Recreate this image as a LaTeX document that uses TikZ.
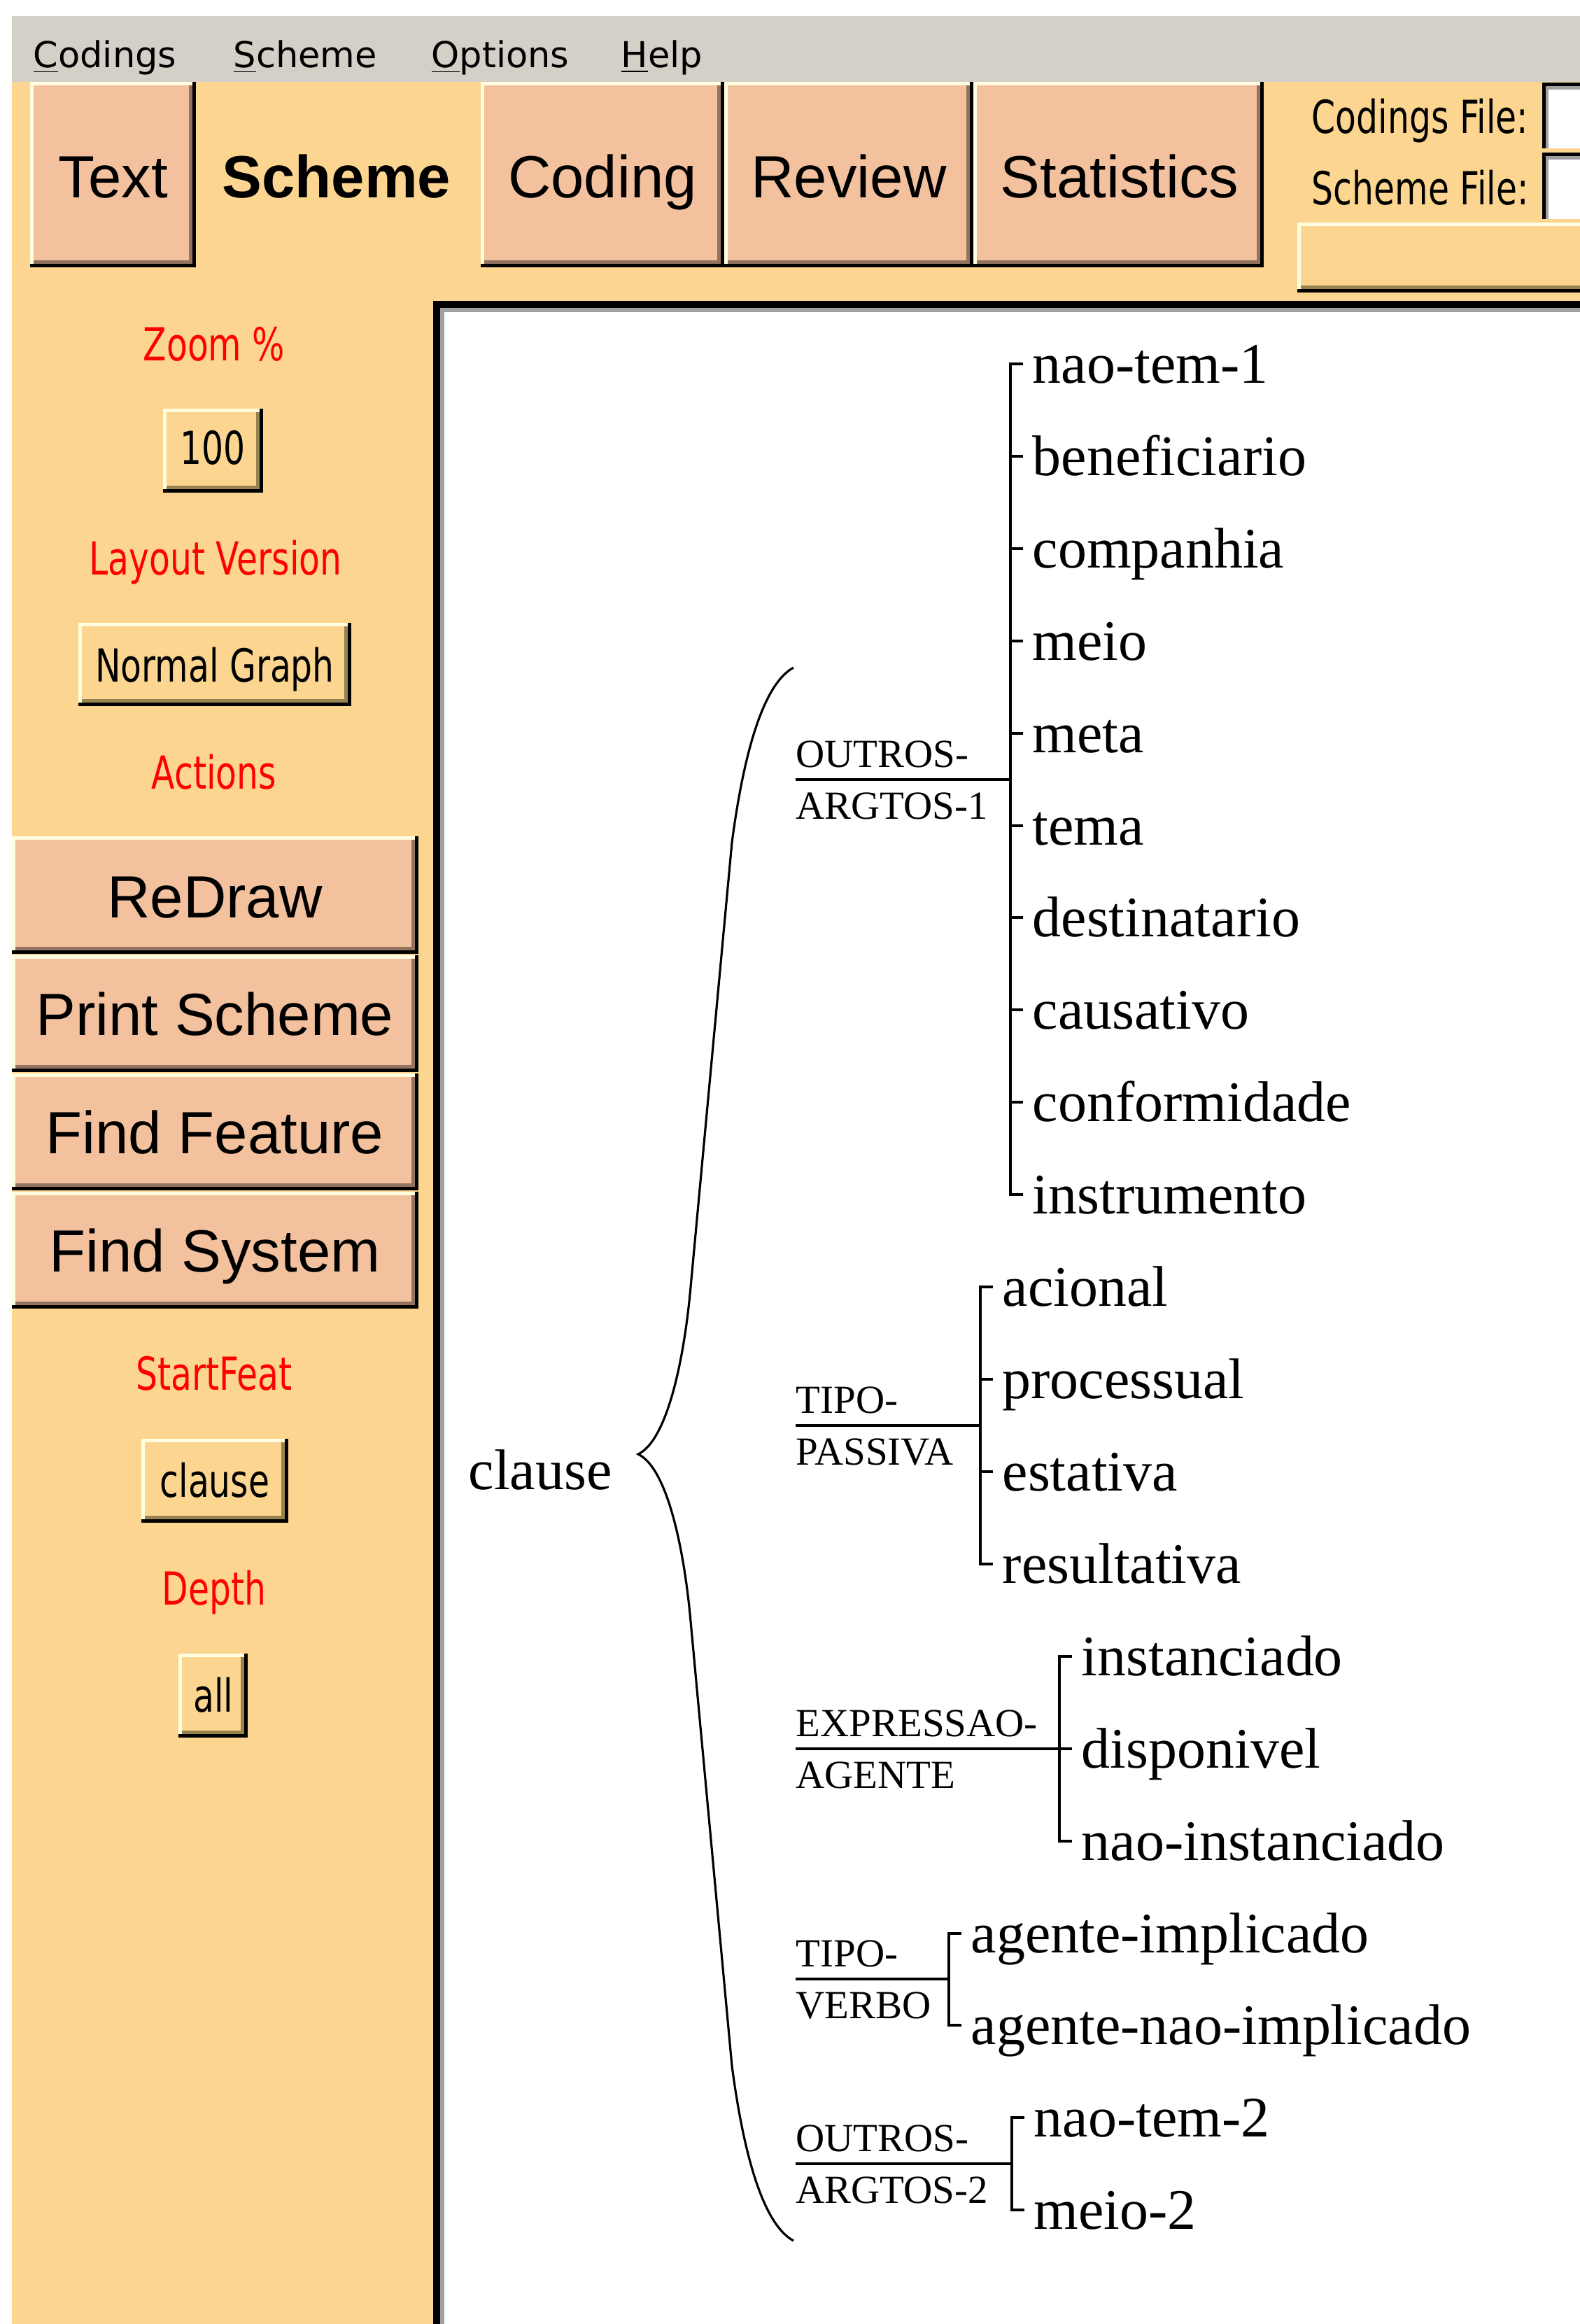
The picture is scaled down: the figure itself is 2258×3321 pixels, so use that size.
\documentclass[tikz,border=0pt]{standalone}
\usepackage{fontspec}
\setmainfont{Liberation Serif}
\newfontfamily\tabfont{Liberation Sans}
\newfontfamily\menufont{DejaVu Sans}
\newfontfamily\guifont[FakeStretch=0.75]{DejaVu Sans}

\definecolor{panelbg}{HTML}{FCD690}
\definecolor{peach}{HTML}{F3C19D}
\definecolor{menugray}{HTML}{D4D0C8}
\definecolor{cream}{HTML}{FFFDE0}
\definecolor{tabshadow}{HTML}{93735F}
\definecolor{boxshadow}{HTML}{98834F}
\definecolor{framegray}{HTML}{A0A0A0}

% raised windows box: x1 y1 x2 y2 fill shadow
\newcommand{\guibox}[6]{%
  \fill[#5] (#1,#2) rectangle (#3,#4);
  \fill[cream] (#1,#2) rectangle (#3,#2+5);
  \fill[cream] (#1,#2) rectangle (#1+5,#4);
  \fill[#6] (#1+5,#4-10) rectangle (#3-5,#4-5);
  \fill[#6] (#3-10,#2+5) rectangle (#3-5,#4-5);
  \fill[black] (#1,#4-5) rectangle (#3,#4);
  \fill[black] (#3-5,#2) rectangle (#3,#4);
}

\begin{document}
\begin{tikzpicture}[x=0.01cm, y=-0.01cm,
    tree/.style={line width=1.2pt},
    brace/.style={line width=0.9pt},
    item/.style={anchor=west, inner xsep=0.13cm, inner ysep=0pt,
      text height=0.78cm, text depth=0.24cm,
      font=\fontsize{23.3pt}{28pt}\selectfont},
    grp/.style={inner sep=0pt, text height=0.56cm, text depth=0.17cm,
      font=\fontsize{16.2pt}{19pt}\selectfont},
    menu/.style={anchor=base west, inner sep=0pt,
      font=\menufont\fontsize{14.5pt}{17pt}\selectfont},
    tablabel/.style={anchor=base, inner sep=0pt,
      font=\tabfont\fontsize{24.2pt}{29pt}\selectfont},
    boxlabel/.style={anchor=base, inner sep=0pt,
      font=\guifont\fontsize{18.5pt}{22pt}\selectfont},
    redlabel/.style={boxlabel, text=red}]
  \useasboundingbox (0,0) rectangle (2258,3321);

  % window background
  \fill[white] (0,0) rectangle (2258,3321);
  \fill[menugray] (17,23) rectangle (2258,117);
  \fill[panelbg] (17,117) rectangle (2258,3321);

  % menu bar
  \node[menu] (mCodings) at (47,97) {\underline{C}odings};
  \node[menu] (mScheme) at (333,97) {\underline{S}cheme};
  \node[menu] (mOptions) at (616,97) {\underline{O}ptions};
  \node[menu] (mHelp) at (887,97) {\underline{H}elp};

  % tabs
  \guibox{43}{117}{280}{382}{peach}{tabshadow}
  \guibox{687}{117}{1035}{382}{peach}{tabshadow}
  \guibox{1035}{117}{1391}{382}{peach}{tabshadow}
  \guibox{1391}{117}{1806}{382}{peach}{tabshadow}
  \node[tablabel] (tText) at (162,282) {Text};
  \node[tablabel, font=\tabfont\bfseries\fontsize{24.2pt}{29pt}\selectfont] (tScheme) at (481,282) {Scheme};
  \node[tablabel] (tCoding) at (861,282) {Coding};
  \node[tablabel] (tReview) at (1213,282) {Review};
  \node[tablabel] (tStats) at (1600,282) {Statistics};

  % file fields
  \node[boxlabel, anchor=base west] (lCodFile) at (1874,191) {Codings File:};
  \node[boxlabel, anchor=base west] (lSchFile) at (1874,292) {Scheme File:};
  \fill[white] (2204,118) rectangle (2258,212);
  \fill[black] (2204,118) rectangle (2258,123);
  \fill[black] (2204,118) rectangle (2209,212);
  \fill[framegray] (2209,123) rectangle (2258,128);
  \fill[framegray] (2209,123) rectangle (2213,212);
  \fill[white] (2204,218) rectangle (2258,313);
  \fill[black] (2204,218) rectangle (2258,223);
  \fill[black] (2204,218) rectangle (2209,313);
  \fill[framegray] (2209,223) rectangle (2258,228);
  \fill[framegray] (2209,223) rectangle (2213,313);
  \guibox{1854}{318}{2300}{418}{panelbg}{boxshadow}

  % left control panel
  \node[redlabel] (lZoom) at (306,515) {Zoom \%};
  \guibox{233}{584}{376}{704}{panelbg}{boxshadow}
  \node[boxlabel] (bZoom) at (304,663) {100};
  \node[redlabel] (lLayout) at (308,821) {Layout Version};
  \guibox{112}{890}{502}{1009}{panelbg}{boxshadow}
  \node[boxlabel] (bLayout) at (307,974) {Normal Graph};
  \node[redlabel] (lActions) at (306,1127) {Actions};

  % action buttons
  \guibox{17}{1195}{598}{1363}{peach}{tabshadow}
  \guibox{17}{1365}{598}{1532}{peach}{tabshadow}
  \guibox{17}{1534}{598}{1701}{peach}{tabshadow}
  \guibox{17}{1703}{598}{1870}{peach}{tabshadow}
  \node[tablabel] (bRedraw) at (307,1311) {ReDraw};
  \node[tablabel] (bPrint) at (307,1479) {Print Scheme};
  \node[tablabel] (bFeature) at (307,1648) {Find Feature};
  \node[tablabel] (bSystem) at (307,1817) {Find System};

  \node[redlabel] (lStart) at (306,1986) {StartFeat};
  \guibox{202}{2056}{412}{2176}{panelbg}{boxshadow}
  \node[boxlabel] (bStart) at (307,2139) {clause};
  \node[redlabel] (lDepth) at (306,2293) {Depth};
  \guibox{255}{2363}{354}{2483}{panelbg}{boxshadow}
  \node[boxlabel] (bDepth) at (305,2446) {all};

  % drawing panel
  \fill[white] (619,430) rectangle (2258,3321);
  \fill[black] (619,430) rectangle (2258,440);
  \fill[black] (619,430) rectangle (629,3321);
  \fill[framegray] (629,440) rectangle (2258,446);
  \fill[framegray] (629,440) rectangle (635,3321);

  % root and brace
  \node[anchor=base west, inner sep=0pt, font=\fontsize{23.3pt}{28pt}\selectfont] (clause) at (669,2128) {clause};
  \coordinate (tip) at (912,2078);
  \draw[brace] (1134,954) .. controls (1095,975) and (1065,1060) .. (1046,1204)
    -- (986,1850) .. controls (975,1960) and (950,2060) .. (tip)
    .. controls (950,2096) and (975,2196) .. (986,2306)
    -- (1046,2952) .. controls (1065,3096) and (1095,3181) .. (1134,3202);

  % junctions of the systems
  \coordinate (g1) at (1444,1114);
  \coordinate (g2) at (1401,2037);
  \coordinate (g3) at (1514,2499);
  \coordinate (g4) at (1356,2828);
  \coordinate (g5) at (1446,3092);

  % system OUTROS-ARGTOS-1
  \node[grp, anchor=south west] (s1a) at (1137,1114) {OUTROS-};
  \node[grp, anchor=north west] (s1b) at (1137,1114) {ARGTOS-1};
  \node[item] (i0) at (1462,520) {nao-tem-1};
  \node[item] (i1) at (1462,652) {beneficiario};
  \node[item] (i2) at (1462,784) {companhia};
  \node[item] (i3) at (1462,916) {meio};
  \node[item] (i4) at (1462,1048) {meta};
  \node[item] (i5) at (1462,1180) {tema};
  \node[item] (i6) at (1462,1311) {destinatario};
  \node[item] (i7) at (1462,1443) {causativo};
  \node[item] (i8) at (1462,1575) {conformidade};
  \node[item] (i9) at (1462,1707) {instrumento};
  \draw[tree] (s1a.south west) -- (g1);
  \foreach \i in {0,...,9} \draw[tree] (g1) |- (i\i.west);

  % system TIPO-PASSIVA
  \node[grp, anchor=south west] (s2a) at (1137,2037) {TIPO-};
  \node[grp, anchor=north west] (s2b) at (1137,2037) {PASSIVA};
  \node[item] (i10) at (1419,1839) {acional};
  \node[item] (i11) at (1419,1971) {processual};
  \node[item] (i12) at (1419,2103) {estativa};
  \node[item] (i13) at (1419,2235) {resultativa};
  \draw[tree] (s2a.south west) -- (g2);
  \foreach \i in {10,...,13} \draw[tree] (g2) |- (i\i.west);

  % system EXPRESSAO-AGENTE
  \node[grp, anchor=south west] (s3a) at (1137,2499) {EXPRESSAO-};
  \node[grp, anchor=north west] (s3b) at (1137,2499) {AGENTE};
  \node[item] (i14) at (1532,2367) {instanciado};
  \node[item] (i15) at (1532,2499) {disponivel};
  \node[item] (i16) at (1532,2631) {nao-instanciado};
  \draw[tree] (s3a.south west) -- (g3);
  \foreach \i in {14,...,16} \draw[tree] (g3) |- (i\i.west);

  % system TIPO-VERBO
  \node[grp, anchor=south west] (s4a) at (1137,2828) {TIPO-};
  \node[grp, anchor=north west] (s4b) at (1137,2828) {VERBO};
  \node[item] (i17) at (1374,2763) {agente-implicado};
  \node[item] (i18) at (1374,2894) {agente-nao-implicado};
  \draw[tree] (s4a.south west) -- (g4);
  \foreach \i in {17,18} \draw[tree] (g4) |- (i\i.west);

  % system OUTROS-ARGTOS-2
  \node[grp, anchor=south west] (s5a) at (1137,3092) {OUTROS-};
  \node[grp, anchor=north west] (s5b) at (1137,3092) {ARGTOS-2};
  \node[item] (i19) at (1464,3026) {nao-tem-2};
  \node[item] (i20) at (1464,3158) {meio-2};
  \draw[tree] (s5a.south west) -- (g5);
  \foreach \i in {19,20} \draw[tree] (g5) |- (i\i.west);
\end{tikzpicture}
\end{document}
